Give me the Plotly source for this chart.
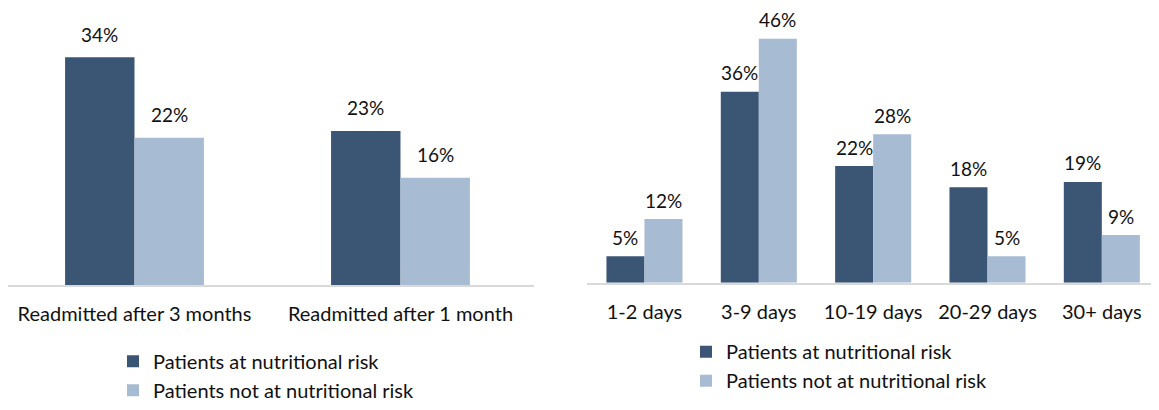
import plotly.graph_objects as go

# Data
left_categories = ["Readmitted after 3 months", "Readmitted after 1 month"]
left_at_risk = [34, 23]
left_not_at_risk = [22, 16]

right_categories = ["1-2 days", "3-9 days", "10-19 days", "20-29 days", "30+ days"]
right_at_risk = [5, 36, 22, 18, 19]
right_not_at_risk = [12, 46, 28, 5, 9]

series_names = ["Patients at nutritional risk", "Patients not at nutritional risk"]
colors = ["#3B5675", "#A7BCD3"]

FONT = "Lato"
TXT = "#111111"

# The page body has an 8px margin, so the figure is sized to fit the window.
W, H = 1151, 402

fig = go.Figure()
annotations = []

def add_panel(cats, series, xa, ya, legend, bar_w, label_shift):
    for k, (vals, name, col) in enumerate(zip(series, series_names, colors)):
        fig.add_trace(go.Bar(
            x=cats, y=vals, name=name, marker=dict(color=col, line=dict(width=0)),
            width=bar_w, offset=(k - 1) * bar_w,
            xaxis=xa, yaxis=ya, legend=legend, legendgroup=f"{legend}{k}",
            hoverinfo="skip"))
        for i, v in enumerate(vals):
            annotations.append(dict(
                x=i + (k - 0.5) * bar_w, y=v, xref=xa, yref=ya,
                text=f"{v}%", showarrow=False, yanchor="middle", xanchor="center",
                yshift=label_shift, borderpad=0,
                font=dict(family=FONT, size=19, color=TXT)))

add_panel(left_categories, [left_at_risk, left_not_at_risk], "x", "y", "legend", 0.261, 23)
add_panel(right_categories, [right_at_risk, right_not_at_risk], "x2", "y2", "legend2", 0.3325, 19)

axis_common = dict(showgrid=False, zeroline=False, showline=True, linecolor="#D9D9D9",
                   linewidth=2, ticks="outside", ticklen=10, tickcolor="rgba(0,0,0,0)",
                   tickfont=dict(family=FONT, size=20, color=TXT), type="category")

legend_common = dict(xanchor="left", yanchor="top", xref="paper", yref="paper",
                     font=dict(family=FONT, size=20, color=TXT), bgcolor="rgba(0,0,0,0)",
                     traceorder="normal", borderwidth=0)

fig.update_layout(
    width=W, height=H,
    margin=dict(l=0, r=0, t=2, b=115, pad=0),
    paper_bgcolor="white", plot_bgcolor="white",
    barmode="overlay",
    xaxis=dict(domain=[0, 526 / W], anchor="y", range=[-0.4756, 1.502], **axis_common),
    yaxis=dict(domain=[0, 1], range=[0, 41.07], visible=False, anchor="x", fixedrange=True),
    xaxis2=dict(domain=[579.3 / W, 1.0], anchor="y2", range=[-0.5, 4.5], **axis_common),
    yaxis2=dict(domain=[0.008, 1], range=[0, 51.4], visible=False, anchor="x2", fixedrange=True),
    legend=dict(x=105 / W, y=-0.2065, tracegroupgap=1, **legend_common),
    legend2=dict(x=678 / W, y=-0.1715, tracegroupgap=0, **legend_common),
    annotations=annotations,
    showlegend=True,
)

fig.write_html("out.html")
